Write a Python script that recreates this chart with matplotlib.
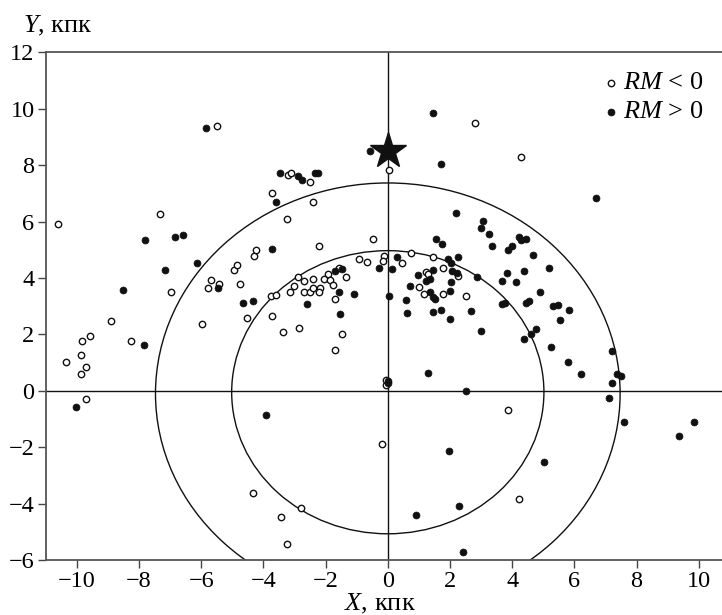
import numpy as np
import matplotlib.pyplot as plt
from matplotlib.patches import Circle

plt.rcParams['font.family'] = ['Liberation Serif', 'DejaVu Serif']
plt.rcParams['mathtext.fontset'] = 'custom'
plt.rcParams['mathtext.rm'] = 'Liberation Serif'
plt.rcParams['mathtext.it'] = 'Liberation Serif:italic'

# %% Data (kpc)

# RM < 0 (open circles)
neg_x = [-10.61, -7.32, -5.48, -6.96, -5.77, -5.67, -5.43, -4.95, -4.85, -4.76,
         -4.31, -4.24, -3.71, -3.22, -3.10, -2.50, -2.41, -3.23, -2.20, -3.76,
         -3.60, -3.15, -3.01, -2.90, -2.70, -2.68, -2.49, -2.42, -2.40, -2.19,
         -2.21, -2.05, -1.92, -1.86, -1.76, -1.57, -1.35, -1.69, -0.92, -0.66,
         -0.49, -0.13, -0.15, 0.45, 0.76, 1.46, 1.76, 1.22, 1.28, 0.99,
         1.18, 1.78, 2.26, 2.51, 2.80, 4.29, 0.03, -10.36, -9.84, -9.57,
         -9.86, -9.72, -9.85, -9.71, -8.91, -8.25, -5.99, -4.54, -3.72, -3.37,
         -2.85, -1.70, -1.47, -4.33, -2.79, -3.43, -3.25, 3.88, 4.23, -0.20,
         -0.06, -0.05]
neg_y = [5.91, 6.27, 9.39, 3.51, 3.63, 3.92, 3.78, 4.29, 4.47, 3.77,
         4.79, 4.99, 7.02, 7.65, 7.74, 7.42, 6.70, 6.10, 5.14, 3.37,
         3.39, 3.51, 3.72, 4.02, 3.88, 3.49, 3.49, 3.95, 3.64, 3.64,
         3.49, 3.95, 4.14, 3.92, 3.76, 4.34, 4.04, 3.26, 4.69, 4.56,
         5.40, 4.79, 4.62, 4.54, 4.89, 4.75, 4.37, 4.23, 4.14, 3.69,
         3.45, 3.45, 4.08, 3.37, 9.48, 8.29, 7.83, 1.02, 1.78, 1.93,
         1.28, 0.83, 0.61, -0.30, 2.49, 1.75, 2.36, 2.59, 2.64, 2.09,
         2.23, 1.44, 2.02, -3.63, -4.15, -4.47, -5.44, -0.67, -3.83, -1.89,
         0.22, 0.40]

# RM > 0 (filled circles)
pos_x = [-8.53, -7.81, -7.15, -6.83, -6.57, -6.15, -5.85, -5.46, -4.64, -4.35,
         -3.73, -3.60, -3.46, -2.89, -2.77, -2.35, -2.24, -2.61, -1.69, -1.46,
         -1.58, -1.09, -1.54, -0.56, -0.28, 0.15, 0.31, 0.04, 1.44, 1.70,
         6.69, 2.20, 3.06, 2.99, 3.25, 1.54, 1.75, 4.22, 4.27, 4.44,
         3.34, 3.86, 4.00, 4.68, 5.19, 4.38, 3.84, 3.67, 4.12, 4.88,
         2.87, 2.26, 1.94, 2.03, 2.05, 2.21, 2.04, 0.98, 1.44, 1.22,
         1.37, 0.71, 1.35, 1.46, 1.53, 1.99, 0.58, 0.63, 1.46, 1.70,
         1.99, 2.69, 3.01, 3.66, 3.78, 4.44, 4.53, 5.32, 5.46, 5.83,
         5.55, 4.75, 4.60, 4.37, 5.25, 5.80, 6.21, 7.21, 7.37, 7.51,
         7.20, 7.10, 7.59, 9.35, 9.85, 1.29, 2.52, 0.00, 0.02, 1.96,
         5.03, 0.92, 2.30, 2.43, -10.03, -7.85, -3.91]
pos_y = [3.57, 5.34, 4.28, 5.46, 5.51, 4.52, 9.31, 3.65, 3.12, 3.19,
         5.02, 6.71, 7.74, 7.62, 7.47, 7.72, 7.72, 3.07, 4.26, 4.31,
         3.50, 3.42, 2.74, 8.52, 4.35, 4.31, 4.75, 3.36, 9.85, 8.05,
         6.84, 6.31, 6.03, 5.77, 5.56, 5.38, 5.20, 5.44, 5.34, 5.38,
         5.12, 4.99, 5.14, 4.80, 4.34, 4.26, 4.16, 3.90, 3.85, 3.52,
         4.03, 4.76, 4.67, 4.53, 4.26, 4.18, 3.85, 4.10, 4.29, 3.88,
         3.96, 3.70, 3.50, 3.33, 3.24, 3.55, 3.22, 2.77, 2.78, 2.87,
         2.54, 2.84, 2.12, 3.07, 3.10, 3.12, 3.19, 2.99, 3.04, 2.88,
         2.51, 2.19, 2.00, 1.85, 1.56, 1.03, 0.61, 1.41, 0.60, 0.53,
         0.29, -0.25, -1.11, -1.61, -1.10, 0.63, 0.00, 0.35, 0.28, -2.13,
         -2.52, -4.40, -4.07, -5.73, -0.58, 1.64, -0.85]

sun_xy = (0.0, 8.5)
rings = [((0.0, -0.05), 5.02), ((0.0, -0.1), 7.47)]   # centre, radius

xticks = np.arange(-10, 11, 2)
yticks = np.arange(-6, 13, 2)
labels = [r'$RM$ < 0', r'$RM$ > 0']

# %% Figure

W, H = 722, 615
fig = plt.figure(figsize=(W / 100, H / 100), dpi=100)
ax = fig.add_axes([45.7 / W, 55 / H, 22 * 31.1 / W, 18 * 28.2 / H])

ax.axhline(0, color='#111111', lw=1.0, zorder=1)
ax.axvline(0, color='#111111', lw=1.0, zorder=1)
for c, r in rings:
    ax.add_patch(Circle(c, r, fill=False, ec='#111111', lw=1.0, zorder=1))

open_style = dict(marker='o', ms=4.6, mfc='white', mec='#111111', mew=1.0, ls='none')
full_style = dict(marker='o', ms=5.0, mfc='#111111', mec='#111111', mew=0.5, ls='none')

ax.plot(neg_x, neg_y, zorder=3, **open_style)
ax.plot(pos_x, pos_y, zorder=3, **full_style)
ax.plot(*sun_xy, marker='*', ms=27, color='#111111', ls='none', zorder=4)

ax.set_xlim(-11, 11)
ax.set_ylim(-6, 12)
ax.set_xticks(xticks)
ax.set_yticks(yticks)
ax.set_xticklabels([str(t).replace('-', '\u2212') for t in xticks])
ax.set_yticklabels([str(t).replace('-', '\u2212') for t in yticks])
ax.tick_params(direction='out', length=6, width=1.0, color='#444444',
               labelsize=17.5, pad=2)
for s in ['left', 'bottom', 'top']:
    ax.spines[s].set_color('#555555')
    ax.spines[s].set_linewidth(1.3)
ax.spines['right'].set_visible(False)

fig.text(58 / W, 1 - 26 / H, r'$Y$, кпк', fontsize=19, ha='center', va='center')
fig.text(380 / W, 1 - 604 / H, r'$X$, кпк', fontsize=19, ha='center', va='center')

# legend drawn by hand
for i, (lab, st) in enumerate(zip(labels, [open_style, full_style])):
    yy = 1 - (83 + 28.5 * i) / H
    fig.lines.append(plt.Line2D([611 / W], [yy], transform=fig.transFigure, **st))
    fig.text(623 / W, yy, lab, fontsize=19, ha='left', va='center')

fig.savefig('out.png', dpi=100)
